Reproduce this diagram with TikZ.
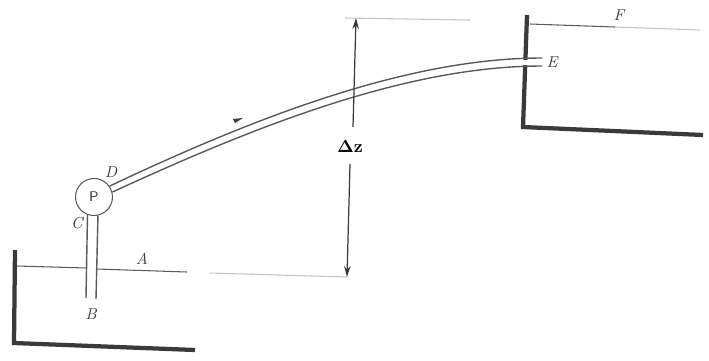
\documentclass[tikz,border=0pt]{standalone}
\usepackage{tikz}
\usetikzlibrary{arrows.meta}
\definecolor{inkdark}{HTML}{3A3A3A}
\definecolor{inkpipe}{HTML}{5A5A5A}
\definecolor{inkfaint}{HTML}{C4C4C4}
\begin{document}
\begin{tikzpicture}[
    x=0.02cm, y=-0.02cm,
    tank/.style={draw=inkdark, line width=0.85mm, line join=miter},
    pipe/.style={draw=inkpipe, line width=0.8pt},
    water/.style={draw=inkpipe, line width=0.6pt},
    faint/.style={draw=inkfaint, line width=0.6pt},
    dim/.style={-{Stealth[length=2.2mm,width=1.3mm]}, draw=inkdark, line width=0.7pt},
    lbl/.style={font=\small\itshape, text=inkdark, inner sep=0pt}
  ]
    \useasboundingbox (0,0) rectangle (709,360);
    \node[draw=inkpipe, line width=0.6pt, circle, minimum size=0.74cm, inner sep=0pt,
          font=\footnotesize\sffamily, text=inkdark] (pump) at (94,197) {P};
    % reservoirs
    \draw[tank] (15,250) -- (14,343) -- (195,350);
    \draw[tank] (527,15) -- (523,127) -- (703,135);
    \fill[white] (515,60) rectangle (535,65);
    % niveaux
    \coordinate (waterAl) at (17,266);
    \coordinate (waterAm) at (87,268);
    \coordinate (waterAn) at (97,269);
    \coordinate (waterAr) at (187,272);
    \coordinate (waterFl) at (530,24);
    \coordinate (waterFm) at (615,27);
    \coordinate (waterFr) at (700,30);
    \draw[water] (waterAl) -- (waterAm);
    \draw[water] (waterAn) -- (waterAr);
    \draw[faint] (210,273) -- (347,277);
    \draw[water] (waterFl) -- (waterFm);
    \draw[faint] (waterFm) -- (waterFr);
    \draw[faint] (345,18) -- (470,20);
    % aspiration
    \coordinate (suctBl) at (86,298);
    \coordinate (suctBr) at (96,299);
    \draw[pipe] (pump.250) -- (suctBl);
    \draw[pipe] (pump.282) -- (suctBr);
    % refoulement
    \coordinate (endEu) at (542,58);
    \coordinate (endEl) at (542,66);
    \draw[pipe] (pump.35) .. controls (260,115) and (410,58) .. (endEu);
    \draw[pipe] (pump.15) .. controls (262,123) and (410,66) .. (endEl);
    \fill[inkdark] (233,119) -- (243,118) -- (235,123) -- cycle;
    % cote
    \node[text=black, inner sep=1pt] (dz) at (350,146) {$\mathbf{\Delta z}$};
    \coordinate (dzTop) at (356,18);
    \coordinate (dzBot) at (347,277);
    \draw[dim] (353,127) -- (dzTop);
    \draw[dim] (350,164) -- (dzBot);
    % lettres
    \node[lbl] (lblA) at (142,259) {A};
    \node[lbl] (lblB) at (91,314) {B};
    \node[lbl] (lblC) at (77,223) {C};
    \node[lbl] (lblD) at (111,172) {D};
    \node[lbl] (lblE) at (552,62) {E};
    \node[lbl] (lblF) at (619,15) {F};
  \end{tikzpicture}
\end{document}
